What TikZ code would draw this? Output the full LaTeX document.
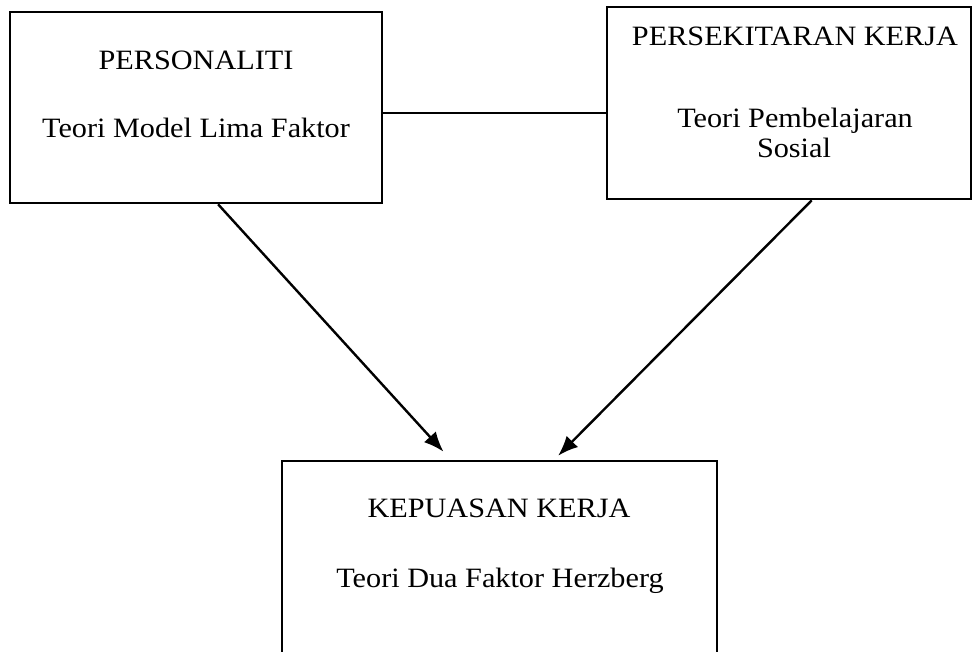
\documentclass[tikz,border=0pt]{standalone}
\usepackage{fontspec}
\setmainfont{Liberation Serif}[FakeStretch=1.08]
\usetikzlibrary{arrows.meta,calc}
\begin{document}
\begin{tikzpicture}[x=1pt,y=-1pt,
  box/.style={draw=black,line width=2.6pt,rectangle,inner sep=0pt},
  txt/.style={anchor=base,inner sep=0pt,font=\fontsize{28}{34}\selectfont},
  link/.style={draw=black,line width=1.2pt},
  arr/.style={draw=black,line width=2.4pt,-{Latex[length=20pt,width=16pt]}}]
\useasboundingbox (0,0) rectangle (974,651);
\node[box,minimum width=372pt,minimum height=191pt] (p) at (196,107.5) {};
\node[box,minimum width=364pt,minimum height=192pt] (e) at (789,103) {};
\node[box,minimum width=435pt,minimum height=240pt] (k) at (499.5,581) {};
\node[txt] (p1) at (196,69) {PERSONALITI};
\node[txt] (p2) at (196,137) {Teori Model Lima Faktor};
\node[txt] (e1) at (795,45) {PERSEKITARAN KERJA};
\node[txt] (e2) at (795,127) {Teori Pembelajaran};
\node[txt] (e3) at (794,157) {Sosial};
\node[txt] (k1) at (499,517) {KEPUASAN KERJA};
\node[txt] (k2) at (500,587) {Teori Dua Faktor Herzberg};
\coordinate (lk) at (0,113);
\draw[link] (p.east |- lk) -- (e.west |- lk);
\coordinate (s1) at ($(p.south west)!0.559!(p.south east)$);
\coordinate (t1) at ($(k.north west)!0.372!(k.north east)+(0,-8)$);
\coordinate (s2) at ($(e.south west)!0.562!(e.south east)$);
\coordinate (t2) at ($(k.north west)!0.634!(k.north east)+(0,-4)$);
\draw[arr] (s1) -- (t1);
\draw[arr] (s2) -- (t2);
\end{tikzpicture}
\end{document}
